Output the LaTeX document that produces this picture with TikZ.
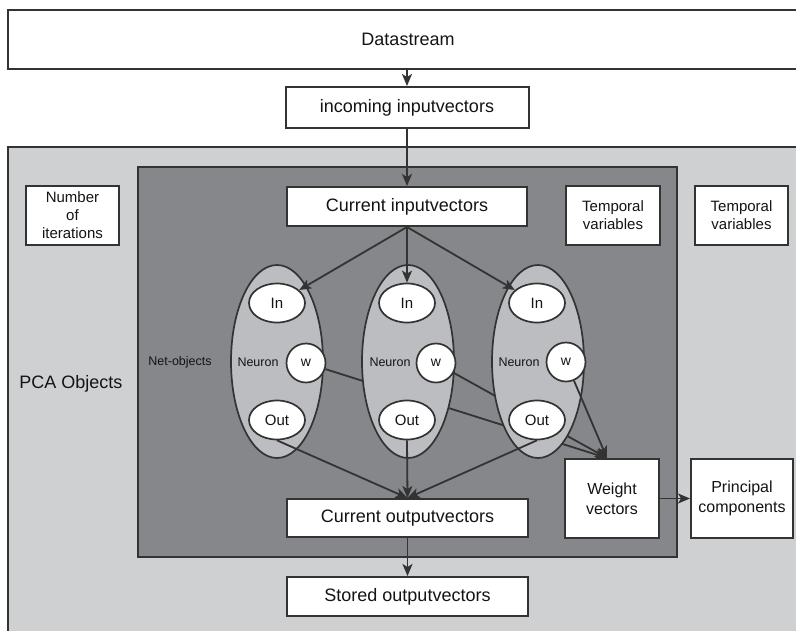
\documentclass[tikz,border=0pt]{standalone}
\usepackage{fontspec}
\setmainfont{Liberation Sans}
\usetikzlibrary{arrows.meta,shapes.geometric,calc}
\pgfdeclarelayer{bgl}
\pgfdeclarelayer{midl}
\pgfsetlayers{bgl,midl,main}
\definecolor{bc}{HTML}{333333}
\definecolor{outerfill}{HTML}{CFD0D2}
\definecolor{darkfill}{HTML}{86878B}
\definecolor{neufill}{HTML}{BCBDC1}
\definecolor{txt}{HTML}{141414}
\begin{document}
\begin{tikzpicture}[x=1pt,y=-1pt,
  box/.style={draw=bc, line width=2pt, fill=white, inner sep=0pt, align=center, text=txt},
  bigtext/.style={font=\fontsize{18}{21}\selectfont},
  midtext/.style={font=\fontsize{15}{18}\selectfont},
  wvtext/.style={font=\fontsize{16}{20}\selectfont},
  smalltext/.style={font=\fontsize{12.5}{15}\selectfont, text=txt},
  neuronshape/.style={ellipse, draw=bc, line width=1.7pt, fill=neufill, minimum width=92pt, minimum height=193pt, inner sep=0pt},
  inout/.style={ellipse, draw=bc, line width=1.7pt, fill=white, minimum width=56pt, minimum height=39pt, inner sep=0pt, font=\fontsize{15}{18}\selectfont, text=txt},
  wnode/.style={circle, draw=bc, line width=1.7pt, fill=white, minimum size=39pt, inner sep=0pt, font=\fontsize{14}{17}\selectfont, text=txt},
  conn/.style={draw=bc, line width=1.8pt},
  arr/.style={conn, -{Stealth[length=12pt,width=10pt,inset=3pt]}}
]
\useasboundingbox (0,0) rectangle (796,630);
\begin{pgfonlayer}{bgl}
  \fill[white] (0,0) rectangle (796,630);
  \node[draw=bc, line width=2pt, fill=outerfill, minimum width=802pt, minimum height=493pt, inner sep=0pt] (pcabox) at (409,393.5) {};
  \node[draw=bc, line width=2pt, fill=darkfill, minimum width=539pt, minimum height=390pt, inner sep=0pt] (netbox) at (407.5,362) {};
\end{pgfonlayer}

% top boxes
\node[box, bigtext, minimum width=800pt, minimum height=59pt] (ds) at (408,39.5) {Datastream};
\node[box, bigtext, minimum width=243pt, minimum height=41pt] (inc) at (407,107.5) {incoming inputvectors};
\node[box, bigtext, minimum width=240pt, minimum height=39pt] (cin) at (407,206.5) {Current inputvectors};

% side boxes
\node[box, midtext, minimum width=93pt, minimum height=59pt] (noi) at (72.5,215.5) {Number\\of\\iterations};
\node[box, midtext, minimum width=94pt, minimum height=59pt] (tv1) at (613,215.5) {Temporal\\variables};
\node[box, midtext, minimum width=93pt, minimum height=59pt] (tv2) at (741.5,215.5) {Temporal\\variables};

% labels
\node[font=\fontsize{18}{21}\selectfont, text=txt] (pcalabel) at (71,384) {PCA Objects};
\node[smalltext] (netlabel) at (180,362) {Net-objects};

% neurons
\node[neuronshape] (n1) at (277,361.5) {};
\node[neuronshape] (n2) at (408,361.5) {};
\node[neuronshape] (n3) at (538,361.5) {};
\node[smalltext] (nl1) at (258,362) {Neuron};
\node[smalltext] (nl2) at (390,362) {Neuron};
\node[smalltext] (nl3) at (519,362) {Neuron};

\node[inout] (in1) at (277,303) {In};
\node[inout] (in2) at (407,303) {In};
\node[inout] (in3) at (537,303) {In};
\node[wnode] (w1) at (306,363) {w};
\node[wnode] (w2) at (436,363) {w};
\node[wnode] (w3) at (566,362) {w};
\node[inout] (out1) at (277,420) {Out};
\node[inout] (out2) at (407,420) {Out};
\node[inout] (out3) at (537,420) {Out};

% bottom boxes
\node[box, bigtext, minimum width=241pt, minimum height=38pt] (cout) at (407.5,518) {Current outputvectors};
\node[box, bigtext, minimum width=241pt, minimum height=39pt] (sout) at (407.5,596.5) {Stored outputvectors};
\node[box, wvtext, minimum width=94pt, minimum height=79pt] (wv) at (612,498.5) {Weight\\vectors};
\node[box, wvtext, minimum width=102pt, minimum height=79pt] (pc) at (742,498.5) {Principal\\components};

\coordinate (wtip) at ($(wv.north)+(-5,0)$);

% weight lines hidden under neurons
\begin{pgfonlayer}{midl}
  \draw[arr] (w1) -- (wtip);
  \draw[arr] (w2) -- (wtip);
\end{pgfonlayer}
\draw[arr] (w3) -- (wtip);

% connectors
\draw[arr] (inc.north |- ds.south) -- (inc.north);
\draw[arr] (inc.south) -- (cin.north);
\draw[arr] (cin.south) -- (in1);
\draw[arr] (cin.south) -- (in2);
\draw[arr] (cin.south) -- (in3);
\draw[arr] (out1.south) -- (cout.north);
\draw[arr] (out2.south) -- (cout.north);
\draw[arr] (out3.south) -- (cout.north);
\draw[arr] (cout.south) -- (sout.north);
\draw[arr] (wv.east) -- (pc.west);
\end{tikzpicture}
\end{document}
